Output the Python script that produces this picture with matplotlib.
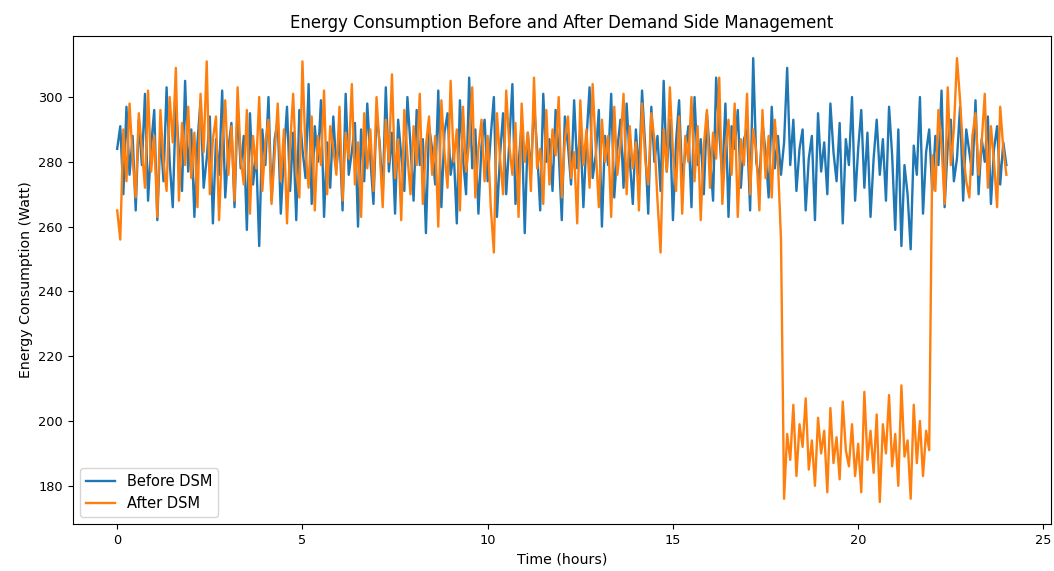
import numpy as np
import matplotlib
matplotlib.use("Agg")
import matplotlib.pyplot as plt

# Energy consumption (Watt), sampled every 5 minutes over 24 hours
before_dsm = [
    284, 291, 270, 297, 276, 288, 265, 293, 279, 301, 268, 285, 296, 262, 289, 274, 303, 280, 266, 298, 283, 271, 305, 277,
    290, 263, 286, 299, 272, 281, 294, 261, 287, 276, 302, 269, 284, 292, 266, 297, 278, 288, 259, 295, 273, 283, 254, 290,
    279, 300, 268, 287, 293, 264, 282, 297, 271, 289, 262, 296, 284, 275, 304, 267, 291, 280, 299, 263, 286, 272, 294, 278,
    288, 265, 301, 276, 283, 292, 260, 290, 274, 298, 281, 267, 295, 286, 270, 303, 277, 289, 264, 293, 282, 271, 300, 285,
    268, 296, 279, 287, 258, 291, 284, 273, 302, 266, 289, 295, 276, 283, 261, 299, 281, 270, 306, 278, 290, 264, 285, 293,
    274, 288, 300, 263, 282, 295, 270, 286, 304, 267, 279, 292, 258, 289, 276, 298, 284, 265, 301, 280, 287, 271, 296, 283,
    262, 294, 285, 273, 299, 278, 290, 266, 287, 303, 275, 282, 296, 260, 288, 279, 301, 269, 284, 293, 272, 298, 281, 267,
    290, 276, 302, 285, 264, 297, 280, 288, 271, 305, 277, 293, 262, 286, 299, 274, 283, 291, 266, 300, 279, 287, 270, 295,
    282, 268, 306, 289, 275, 298, 263, 291, 284, 296, 272, 287, 290, 265, 312, 280, 274, 292, 283, 269, 297, 278, 288, 276,
    286, 309, 279, 293, 271, 284, 290, 265, 281, 288, 262, 295, 277, 286, 270, 298, 283, 274, 292, 261, 287, 279, 300, 268,
    284, 296, 272, 289, 263, 281, 293, 276, 287, 268, 297, 282, 259, 290, 254, 279, 270, 253, 285, 276, 300, 264, 283, 290,
    271, 288, 279, 302, 266, 285, 293, 274, 281, 297, 268, 290, 283, 276, 299, 270, 287, 280, 294, 267, 284, 291, 273, 286,
    279,
]

after_dsm = [
    265, 256, 290, 274, 298, 281, 269, 295, 284, 272, 302, 277, 288, 263, 296, 280, 271, 300, 286, 309, 268, 292, 279, 297,
    275, 289, 266, 301, 283, 311, 270, 287, 294, 262, 285, 299, 276, 291, 268, 303, 281, 273, 296, 264, 288, 278, 300, 271,
    286, 293, 267, 282, 298, 274, 290, 261, 285, 301, 277, 269, 311, 283, 272, 294, 265, 288, 279, 302, 270, 291, 284, 276,
    297, 268, 289, 281, 304, 273, 286, 263, 295, 278, 290, 271, 300, 284, 266, 293, 280, 307, 275, 287, 262, 296, 282, 270,
    291, 279, 301, 267, 285, 294, 276, 288, 260, 299, 283, 272, 305, 280, 290, 265, 297, 277, 286, 303, 269, 284, 293, 274,
    288, 266, 252, 295, 281, 270, 302, 285, 276, 292, 263, 298, 280, 289, 271, 306, 278, 284, 267, 296, 273, 290, 282, 300,
    269, 287, 294, 275, 283, 261, 299, 279, 290, 272, 304, 284, 266, 293, 280, 288, 263, 297, 276, 285, 301, 270, 291, 278,
    286, 265, 298, 281, 273, 295, 287, 268, 252, 290, 277, 303, 283, 271, 294, 264, 288, 280, 300, 274, 291, 262, 285, 296,
    272, 289, 281, 306, 267, 284, 293, 276, 298, 263, 287, 279, 301, 270, 290, 283, 265, 296, 275, 288, 269, 293, 280, 256,
    176, 196, 188, 205, 183, 199, 192, 207, 185, 194, 180, 201, 190, 197, 178, 204, 187, 195, 182, 206, 191, 186, 199, 183,
    193, 178, 209, 188, 197, 184, 202, 175, 199, 190, 208, 186, 196, 180, 211, 189, 194, 176, 205, 187, 200, 183, 197, 191,
    282, 271, 296, 285, 267, 303, 279, 290, 312, 299, 283, 274, 269, 288, 295, 276, 286, 301, 272, 291, 280, 266, 297, 284,
    276,
]

time_hours = np.linspace(0, 24, len(before_dsm))

fig = plt.figure(figsize=(10.54, 5.71), dpi=100)
ax = fig.add_axes([0.069, 0.082, 0.928, 0.855])

ax.plot(time_hours, before_dsm, label='Before DSM', linewidth=1.7)
ax.plot(time_hours, after_dsm, label='After DSM', linewidth=1.7)

ax.set_title('Energy Consumption Before and After Demand Side Management', fontsize=11.9)
ax.set_xlabel('Time (hours)', fontsize=10.2)
ax.set_ylabel('Energy Consumption (Watt)', fontsize=10.2)
ax.tick_params(labelsize=9.3)
ax.legend(loc='lower left', fontsize=10.5)

fig.savefig('out.png', dpi=100)
